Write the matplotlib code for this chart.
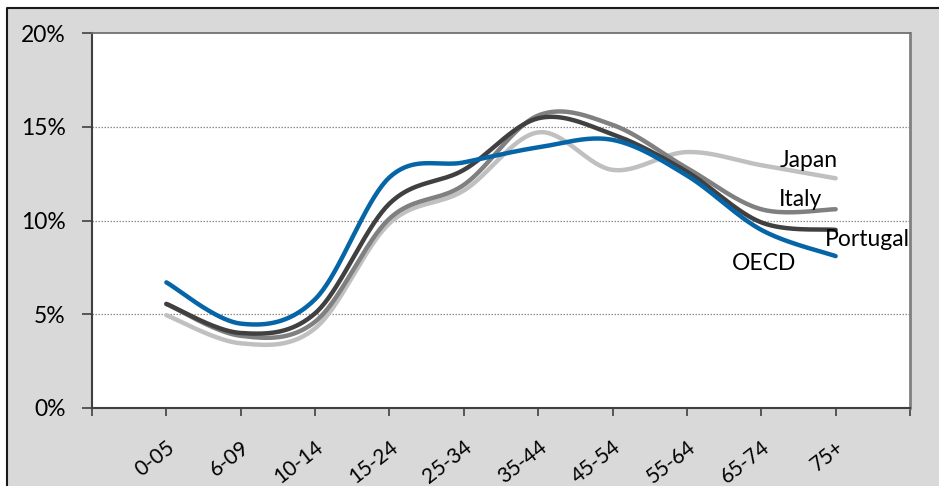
import numpy as np
import matplotlib
matplotlib.use("Agg")
import matplotlib.pyplot as plt
from matplotlib.patches import Rectangle
from matplotlib.lines import Line2D
from matplotlib.transforms import ScaledTranslation
from matplotlib.ticker import FixedLocator, FuncFormatter

plt.rcParams['font.family'] = ['Lato', 'DejaVu Sans']

# Age-group shares (%)
age_groups = ["0-05", "6-09", "10-14", "15-24", "25-34", "35-44",
              "45-54", "55-64", "65-74", "75+"]
oecd = [6.7, 4.5, 5.8, 12.3, 13.1, 13.9, 14.3, 12.4, 9.5, 8.1]
portugal = [5.55, 4.0, 5.05, 10.9, 12.7, 15.45, 14.6, 12.6, 9.9, 9.5]
italy = [5.55, 3.85, 4.6, 10.1, 11.9, 15.6, 15.1, 12.8, 10.6, 10.6]
japan = [4.95, 3.45, 4.25, 9.85, 11.6, 14.7, 12.7, 13.65, 12.95, 12.25]

series_names = ["Japan", "Italy", "Portugal", "OECD"]
series_values = [japan, italy, portugal, oecd]
series_colors = ["#C0C0C0", "#808080", "#404040", "#0565A6"]


def smooth(xs, ys, n=40):
    """Bezier smoothing through every point (Catmull-Rom style)."""
    p = np.column_stack([xs, ys]).astype(float)
    p = np.vstack([p[0], p, p[-1]])
    out = []
    t = np.linspace(0, 1, n)[:, None]
    for i in range(1, len(p) - 2):
        p0, p1, p2, p3 = p[i - 1], p[i], p[i + 1], p[i + 2]
        c1 = p1 + (p2 - p0) / 6.0
        c2 = p2 - (p3 - p1) / 6.0
        seg = ((1 - t) ** 3) * p1 + 3 * ((1 - t) ** 2) * t * c1 \
            + 3 * (1 - t) * t ** 2 * c2 + t ** 3 * p2
        out.append(seg if i == 1 else seg[1:])
    out = np.vstack(out)
    return out[:, 0], out[:, 1]


W, H = 939, 486
fig = plt.figure(figsize=(W / 100, H / 100), dpi=100, facecolor="white")

# grey chart area with a dark frame on its top and left edges
fx0, fy1 = 7 / W, 1 - 8 / H
fig.patches.append(Rectangle((fx0, 0), 1 - fx0, fy1, transform=fig.transFigure,
                             facecolor="#D9D9D9", edgecolor="none", zorder=-2))
fig.lines.append(Line2D([fx0, fx0, 1], [0, fy1, fy1], transform=fig.transFigure,
                        color="#1A1A1A", linewidth=1.5, zorder=-1))

ax = fig.add_axes([92 / W, 1 - 408 / H, (910 - 92) / W, (408 - 33) / H])
ax.set_facecolor("white")

x = np.arange(len(age_groups))
for name, vals, col in zip(series_names, series_values, series_colors):
    sx, sy = smooth(x, vals)
    ax.plot(sx, sy, color=col, linewidth=3.2, solid_capstyle="round", zorder=3)

ax.set_xlim(-1, len(age_groups))
ax.set_ylim(0, 20)

ax.yaxis.set_major_locator(FixedLocator([0, 5, 10, 15, 20]))
ax.yaxis.set_major_formatter(FuncFormatter(lambda v, p: f"{v:.0f}%"))
for gy in [5, 10, 15]:
    ax.axhline(gy, color="#8C8C8C", linewidth=0.9, linestyle=(0, (1.2, 1.2)), zorder=1)

# ticks at every category plus one blank slot at each end
tick_pos = np.arange(-1, len(age_groups) + 1)
tick_lab = [""] + age_groups + [""]
ax.set_xticks(tick_pos)
ax.set_xticklabels(tick_lab, rotation=38, ha="right", va="top",
                   rotation_mode="anchor", fontsize=15)
shift = ScaledTranslation(5 / 100, 0, fig.dpi_scale_trans)
for lbl in ax.get_xticklabels():
    lbl.set_transform(lbl.get_transform() + shift)
ax.tick_params(axis="x", direction="out", length=6, width=1.2,
               color="#404040", pad=15)
ax.tick_params(axis="y", direction="out", length=7, width=1.2,
               color="#404040", labelsize=16.5, pad=12)

ax.spines["left"].set_color("#404040")
ax.spines["left"].set_linewidth(1.5)
ax.spines["bottom"].set_color("#404040")
ax.spines["bottom"].set_linewidth(1.5)
ax.spines["top"].set_color("#707070")
ax.spines["top"].set_linewidth(1.3)
ax.spines["right"].set_color("#808080")
ax.spines["right"].set_linewidth(2.0)

# series labels
lab_kw = dict(fontsize=16.5, ha="left", va="center", color="black")
ax.text(8.25, 13.2, "Japan", **lab_kw)
ax.text(8.23, 11.1, "Italy", **lab_kw)
ax.text(8.85, 9.0, "Portugal", **lab_kw)
ax.text(7.61, 7.7, "OECD", **lab_kw)

fig.savefig("out.png", dpi=100, facecolor=fig.get_facecolor())
